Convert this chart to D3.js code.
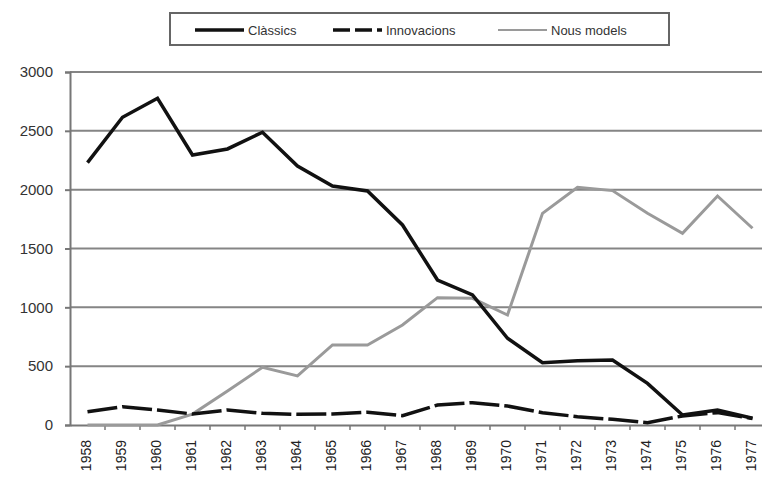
<!DOCTYPE html>
<html>
<head>
<meta charset="utf-8">
<script src="https://cdn.jsdelivr.net/npm/d3@7"></script>
<style>
body{margin:0;background:#fff;}
svg{display:block;font-family:"Liberation Sans",Arial,sans-serif;}
</style>
</head>
<body>
<div id="chart"></div>
<script>
var years = ["1958","1959","1960","1961","1962","1963","1964","1965","1966","1967",
             "1968","1969","1970","1971","1972","1973","1974","1975","1976","1977"]
var classics   = [2230,2615,2777,2295,2346,2488,2201,2031,1989,1700,1232,1105,737,530,547,552,354,85,127,57]
var innovacions= [113,156,128,93,128,99,91,93,108,79,170,190,161,105,71,48,20,77,105,55]
var nous       = [0,0,0,93,290,490,417,680,680,850,1082,1077,935,1799,2020,1992,1800,1629,1946,1672]
var yticks = [0,500,1000,1500,2000,2500,3000]
var seriesNames = ["Clàssics","Innovacions","Nous models"]

var W = 762, H = 479
var margin = {top:72, left:70, bottom:54}
var plotH = H - margin.top - margin.bottom

var svg = d3.select("#chart").append("svg").attr("width",W).attr("height",H)

var x = d3.scaleBand().domain(years).range([margin.left, margin.left+20*35])
var y = d3.scaleLinear().domain([0,3000]).range([margin.top+plotH, margin.top])

// gridlines
svg.append("g").selectAll("line").data(yticks.slice(1)).enter().append("line")
	.attr("x1",margin.left).attr("x2",W)
	.attr("y1",function(d){return y(d)}).attr("y2",function(d){return y(d)})
	.style("stroke","#858585").style("stroke-width",2)

var yAxis = svg.append("g").attr("transform","translate("+margin.left+",0)")
	.call(d3.axisLeft(y).tickValues(yticks).tickSize(5).tickPadding(12).tickFormat(d3.format("d")))
yAxis.selectAll("line,path").style("stroke","#777").style("stroke-width",2)
yAxis.selectAll("text").style("font-size","15px").style("fill","#333")

var xAxis = svg.append("g").attr("transform","translate(0,"+y(0)+")")
	.call(d3.axisBottom(x).tickSize(0).tickPadding(0))
xAxis.select("path").style("stroke","#777").style("stroke-width",2)
xAxis.selectAll("text")
	.attr("transform","rotate(-90)")
	.attr("x",-15).attr("y",-1).attr("dy","0.35em")
	.style("text-anchor","end").style("font-size","14px").style("fill","#222")
// tick marks between categories
xAxis.selectAll(".between").data(years.slice(1)).enter().append("line")
	.attr("x1",function(d){return x(d)}).attr("x2",function(d){return x(d)})
	.attr("y1",0).attr("y2",5)
	.style("stroke","#777").style("stroke-width",1.5)

var line = d3.line()
	.x(function(d,i){return x(years[i])+x.bandwidth()/2})
	.y(function(d){return y(d)})

svg.append("path").datum(nous).attr("d",line)
	.style("fill","none").style("stroke","#9a9a9a").style("stroke-width",3)
svg.append("path").datum(innovacions).attr("d",line)
	.style("fill","none").style("stroke","#111").style("stroke-width",3.5)
	.style("stroke-dasharray","30,5")
svg.append("path").datum(classics).attr("d",line)
	.style("fill","none").style("stroke","#111").style("stroke-width",3.5)

// legend
var leg = svg.append("g")
leg.append("rect").attr("x",170).attr("y",13).attr("width",499).attr("height",32)
	.style("fill","#fff").style("stroke","#666").style("stroke-width",2)
var legX = [195,333,498]
var legStyles = [
	{stroke:"#111",w:3.5,dash:null},
	{stroke:"#111",w:3.5,dash:"17,5"},
	{stroke:"#9a9a9a",w:2,dash:null}
]
var items = leg.selectAll(".item").data(seriesNames).enter().append("g")
	.attr("transform",function(d,i){return "translate("+legX[i]+",30)"})
items.append("line").attr("x1",0).attr("x2",49).attr("y1",0).attr("y2",0)
	.style("stroke",function(d,i){return legStyles[i].stroke})
	.style("stroke-width",function(d,i){return legStyles[i].w})
	.style("stroke-dasharray",function(d,i){return legStyles[i].dash})
items.append("text").text(function(d){return d})
	.attr("x",53).attr("y",0).attr("dy","0.35em")
	.style("font-size","13px").style("fill","#333")
</script>
</body>
</html>
